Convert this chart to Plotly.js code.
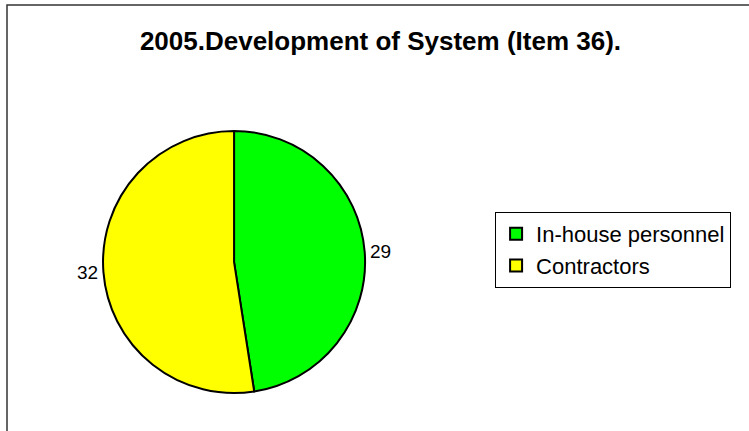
<!DOCTYPE html>
<html>
<head>
<meta charset="utf-8">
<script src="https://cdn.plot.ly/plotly-3.0.1.min.js"></script>
<style>
  html, body { margin: 0; padding: 0; background: #fff; }
  #chart { width: 749px; height: 431px; }
</style>
</head>
<body>
<div id="chart"></div>
<script>
// data
var labels = ['In-house personnel', 'Contractors'];
var values = [29, 32];
var colors = ['#00ff00', '#ffff00'];

var trace = {
    type: 'pie',
    labels: labels,
    values: values,
    sort: false,
    direction: 'clockwise',
    rotation: 0,
    marker: { colors: colors, line: { color: '#000000', width: 2 } },
    textinfo: 'value',
    textposition: 'outside',
    outsidetextfont: { family: 'Arial, Liberation Sans', size: 19, color: '#000000' },
    hoverinfo: 'label+value',
    domain: { x: [0.06, 0.565], y: [0.088, 0.696] }
};

var layout = {
    width: 749,
    height: 431,
    margin: { l: 0, r: 0, t: 0, b: 0 },
    paper_bgcolor: '#ffffff',
    font: { family: 'Arial, Liberation Sans', color: '#000000' },
    title: {
        text: '<b>2005.Development of System (Item 36).</b>',
        font: { family: 'Arial, Liberation Sans', size: 26, color: '#000000' },
        x: 0.508, xanchor: 'center',
        y: 0.905, yanchor: 'middle'
    },
    showlegend: true,
    legend: {
        x: 0.661, xanchor: 'left',
        y: 0.508, yanchor: 'top',
        bordercolor: '#000000', borderwidth: 1,
        font: { family: 'Arial, Liberation Sans', size: 22, color: '#000000' },
        itemwidth: 30,
        traceorder: 'normal'
    },
    shapes: [{
        type: 'rect', xref: 'paper', yref: 'paper',
        x0: 7 / 749, x1: 1.02, y0: -0.02, y1: 1 - 5 / 431,
        line: { color: '#333333', width: 1.5 }
    }]
};

Plotly.newPlot('chart', [trace], layout, { displayModeBar: false, staticPlot: true });
</script>
</body>
</html>
